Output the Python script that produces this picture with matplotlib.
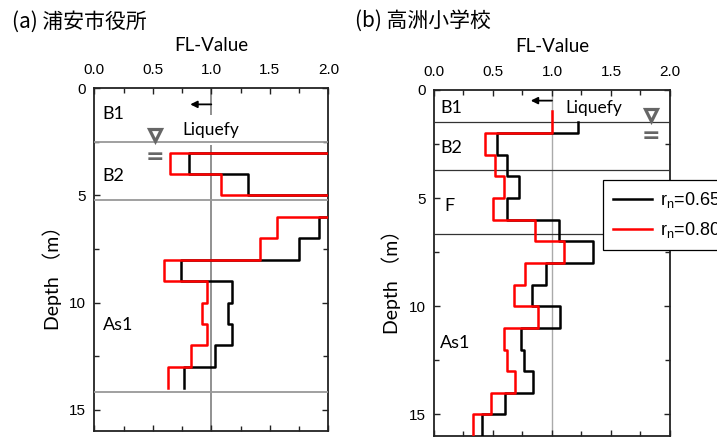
import numpy as np
import matplotlib
matplotlib.use("Agg")
import matplotlib.pyplot as plt
from matplotlib.ticker import MultipleLocator

plt.rcParams['font.family'] = ['Liberation Sans', 'Noto Sans CJK JP']
plt.rcParams['mathtext.fontset'] = 'custom'
plt.rcParams['mathtext.rm'] = 'Liberation Sans'
plt.rcParams['mathtext.it'] = 'Liberation Sans:italic'

LABEL_FONT = ['Lato', 'Noto Sans CJK JP']
FL_OVER = 2.5  # FL larger than the 2.0 axis limit (drawn off scale)

# ---- (a) 浦安市役所 ----
a_title = "(a) 浦安市役所"
a_edges = [2, 3, 4, 5, 6, 7, 8, 9, 10, 11, 12, 13, 14]
a_fl_065 = [FL_OVER, 0.81, 1.31, FL_OVER, 1.92, 1.75, 0.74, 1.18, 1.14, 1.18, 1.03, 0.77]
a_fl_080 = [FL_OVER, 0.65, 1.08, FL_OVER, 1.56, 1.42, 0.60, 0.96, 0.92, 0.96, 0.83, 0.63]
a_layers = ["B1", "B2", "As1"]
a_layer_depth = [1.2, 4.1, 11.05]
a_bounds = [2.5, 5.2, 14.2]
a_water = (0.52, 2.2)

# ---- (b) 高洲小学校 ----
b_title = "(b) 高洲小学校"
b_edges_065 = [1.5, 2, 3, 4, 5, 6, 7, 8, 9, 10, 11, 12, 13, 14, 15, 16]
b_fl_065 = [1.22, 0.53, 0.62, 0.72, 0.62, 1.06, 1.35, 0.95, 0.83, 1.07, 0.74, 0.76, 0.84, 0.60, 0.41]
b_edges_080 = [1, 2, 3, 4, 5, 6, 7, 8, 9, 10, 11, 12, 13, 14, 15, 16]
b_fl_080 = [1.00, 0.43, 0.52, 0.59, 0.50, 0.86, 1.10, 0.77, 0.68, 0.88, 0.59, 0.62, 0.69, 0.48, 0.33]
b_layers = ["B1", "B2", "F", "As1"]
b_layer_depth = [0.84, 2.7, 5.35, 11.7]
b_bounds = [1.5, 3.7, 6.66]
b_water = (1.84, 1.15)

xticks = [0.0, 0.5, 1.0, 1.5, 2.0]
yticks = [0, 5, 10, 15]


def step_xy(edges, values):
    e = np.asarray(edges, dtype=float)
    x = np.repeat(values, 2)
    y = np.column_stack([e[:-1], e[1:]]).ravel()
    return x, y


def setup_axes(ax):
    ax.set_xlim(0, 2)
    ax.set_ylim(16, 0)
    ax.set_xticks(xticks)
    ax.set_xticklabels(["%.1f" % t for t in xticks])
    ax.set_yticks(yticks)
    ax.xaxis.set_minor_locator(MultipleLocator(0.25))
    ax.yaxis.set_minor_locator(MultipleLocator(2.5))
    ax.tick_params(which='both', direction='in', top=True, right=True,
                   labeltop=True, labelbottom=False, width=1.0, color='#222')
    ax.tick_params(which='major', length=4.5, labelsize=11)
    ax.tick_params(which='minor', length=3.5)
    ax.tick_params(axis='x', pad=8)
    ax.tick_params(axis='y', pad=6)
    for s in ax.spines.values():
        s.set_linewidth(1.3)
        s.set_color('#222')
    ax.xaxis.set_label_position('top')
    ax.set_xlabel("FL-Value", fontsize=13.5, family=LABEL_FONT, labelpad=9)
    ax.set_ylabel("Depth （m）", fontsize=14, family=LABEL_FONT)


def water_table(ax, pos):
    ax.plot(pos[0], pos[1], marker='v', ms=8.5, mfc='white', mec='#666',
            mew=2.3, zorder=6)
    ax.text(pos[0], pos[1] + 1.0, "=", fontsize=16, fontweight='bold',
            family='DejaVu Sans', color='#666', ha='center', va='center', zorder=6)


fig = plt.figure(figsize=(7.17, 4.37), dpi=100)
ax1 = fig.add_axes([0.1315, 0.0137, 0.3264, 0.7842])
ax2 = fig.add_axes([0.6053, 0.002, 0.3291, 0.7925])

# ---- panel (a) ----
setup_axes(ax1)
ax1.axvline(1.0, color='#888', lw=1.3, zorder=1)
for d in a_bounds:
    ax1.axhline(d, color='#999', lw=1.3, zorder=3)
x, y = step_xy(a_edges, a_fl_065)
ax1.plot(x, y, color='black', lw=1.8, zorder=4)
x, y = step_xy(a_edges, a_fl_080)
ax1.plot(x, y, color='#ff0000', lw=1.8, zorder=5)
for name, d in zip(a_layers, a_layer_depth):
    ax1.text(0.07, d, name, fontsize=13, family=LABEL_FONT, va='center', ha='left')
ax1.annotate("", xy=(0.82, 0.75), xytext=(1.0, 0.75),
             arrowprops=dict(arrowstyle='-|>', color='black', lw=1.3,
                             mutation_scale=10, shrinkA=0, shrinkB=0))
ax1.text(1.0, 1.95, "Liquefy", fontsize=12.5, family=LABEL_FONT, ha='center',
         va='center', zorder=2,
         bbox=dict(facecolor='white', edgecolor='none', pad=5))
water_table(ax1, a_water)
fig.text(12 / 717, 1 - 22 / 437, a_title, fontsize=15, family='Noto Sans CJK JP',
         ha='left', va='center')

# ---- panel (b) ----
setup_axes(ax2)
ax2.axvline(1.0, color='#aaa', lw=1.0, zorder=1)
for d in b_bounds:
    ax2.axhline(d, color='#333', lw=0.9, zorder=3)
x, y = step_xy(b_edges_065, b_fl_065)
ax2.plot(x, y, color='black', lw=1.8, zorder=4, label="r$_\\mathrm{n}$=0.65")
x, y = step_xy(b_edges_080, b_fl_080)
ax2.plot(x, y, color='#ff0000', lw=1.8, zorder=5, label="r$_\\mathrm{n}$=0.80")
for name, d in zip(b_layers, b_layer_depth):
    xoff = 0.09 if name == "F" else 0.05
    ax2.text(xoff, d, name, fontsize=13, family=LABEL_FONT, va='center', ha='left')
ax2.annotate("", xy=(0.82, 0.5), xytext=(1.0, 0.5),
             arrowprops=dict(arrowstyle='-|>', color='black', lw=1.3,
                             mutation_scale=10, shrinkA=0, shrinkB=0))
ax2.text(1.11, 0.85, "Liquefy", fontsize=12.5, family=LABEL_FONT, ha='left',
         va='center', zorder=2)
water_table(ax2, b_water)
fig.text(355 / 717, 1 - 21 / 437, b_title, fontsize=15, family='Noto Sans CJK JP',
         ha='left', va='center')

leg = ax2.legend(loc='upper left', bbox_to_anchor=(602.7 / 717, 1 - 180 / 437),
                 bbox_transform=fig.transFigure, borderaxespad=0, fontsize=13,
                 handlelength=2.2, handletextpad=0.4, fancybox=False,
                 framealpha=1, edgecolor='black', borderpad=0.55, labelspacing=0.55)
leg.get_frame().set_linewidth(0.9)
leg.set_zorder(10)

for ax in (ax1, ax2):
    ax.yaxis.set_label_coords(-0.14, 0.46)

fig.savefig("out.png", dpi=100)
